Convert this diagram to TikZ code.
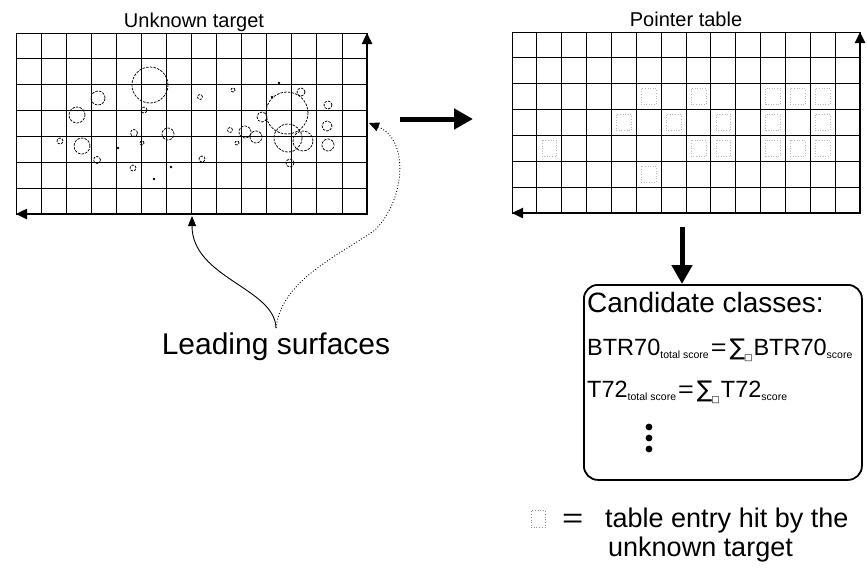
\documentclass[tikz,border=0pt]{standalone}
\usepackage{fontspec}
\setmainfont{Liberation Sans}
\newfontfamily\djv{DejaVu Sans}
\usetikzlibrary{arrows.meta}
\newcommand\lowsub[1]{\raisebox{-3pt}{\fontsize{10.5}{11}\selectfont #1}}
\newcommand\sumbox{{\djv\fontsize{23}{23}\selectfont ∑}\kern-1pt\raisebox{-5pt}{{\djv\fontsize{9}{9}\selectfont □}}\kern1pt}
\newcommand\eqsign{\kern2pt\scalebox{1.15}[1]{=}\kern3pt}
\begin{document}
\begin{tikzpicture}[x=1pt,y=-1pt,
  gridline/.style={line width=0.75pt,black},
  axisline/.style={line width=2.4pt,{Triangle[length=11pt,width=10pt]}-{Triangle[length=11pt,width=10pt]}},
  circ/.style={line width=0.75pt,dash pattern=on 2.5pt off 1.2pt},
  bigarrow/.style={line width=5pt,-{Triangle[length=19pt,width=20pt]}},
  hit/.style={black!28,dotted,line width=0.6pt},
  title/.style={font=\fontsize{20}{22}\selectfont,anchor=base,inner sep=0pt},
  boxtext/.style={anchor=base west,inner sep=0pt},
  legtext/.style={font=\fontsize{27}{30}\selectfont,anchor=base west,inner sep=0pt},
  curve/.style={line width=0.9pt},
]
\useasboundingbox (0,0) rectangle (867,581);

% ---------- left grid (unknown target) ----------
\foreach \i in {0,...,14} \draw[gridline] ({16+\i*351/14},33) -- ({16+\i*351/14},214);
\foreach \j in {0,...,7} \draw[gridline] (16,{33+\j*181/7}) -- (367,{33+\j*181/7});
\coordinate (LL) at (16,214);
\coordinate (LR) at (367,214);
\coordinate (LT) at (367,33);
\draw[axisline] (LL) -- (LR) -- (LT);

\foreach \x/\y/\r in {150/85/18, 98/98/7, 77/115/8, 82/146/8, 60/141/3, 97/160/3.5,
  134/133/3.5, 142/143/2, 144/110/3, 168/134/6, 133/168/3, 200/97/2.5, 202/159/3,
  233/90/2, 287/113/21, 301/92/4, 328/105/4, 262/117/5, 230/130/2.5, 245/132/6,
  256/137/6, 237/143/2, 288/138/14, 303/141/10, 327/126/5, 328/145/6, 290/163/4}
  \draw[circ] (\x,\y) circle[radius=\r pt];
\foreach \x/\y in {118/148, 154/179, 171/167, 279/83, 272/97}
  \fill (\x,\y) circle[radius=1.3pt];

\node[title] (t1) at (194,27) {Unknown target};

% ---------- right grid (pointer table) ----------
\foreach \i in {0,...,14} \draw[gridline] ({512+\i*348/14},32) -- ({512+\i*348/14},213);
\foreach \j in {0,...,7} \draw[gridline] (512,{32+\j*181/7}) -- (860,{32+\j*181/7});
\foreach \c/\r in {5/2,7/2,10/2,11/2,12/2,4/3,6/3,8/3,10/3,12/3,7/4,8/4,10/4,11/4,12/4,5/5,1/4}
  \draw[hit] ({512+\c*348/14+5},{32+\r*181/7+5}) rectangle ({512+(\c+1)*348/14-5},{32+(\r+1)*181/7-5});
\coordinate (RL) at (512,213);
\coordinate (RR) at (860,213);
\coordinate (RT) at (860,32);
\draw[axisline] (RL) -- (RR) -- (RT);

\node[title] (t2) at (686,26) {Pointer table};

% ---------- arrows between ----------
\coordinate (ra1) at (400,119);
\coordinate (ra2) at (473,119);
\draw[bigarrow] (ra1) -- (ra2);

% ---------- candidate box ----------
\node[draw,line width=1.8pt,rounded corners=14pt,minimum width=278pt,minimum height=195pt,anchor=north west,inner sep=0pt] (box) at (583,284) {};
\coordinate (da1) at (682,227);
\draw[bigarrow] (da1) -- (da1 |- box.north);

\node[boxtext,font=\fontsize{28}{30}\selectfont] (c0) at (587,312) {Candidate classes:};
\node[boxtext,font=\fontsize{23.5}{28}\selectfont] (c1) at (587,355)
  {BTR70\lowsub{total score}\eqsign\sumbox BTR70\lowsub{score}};
\node[boxtext,font=\fontsize{23.5}{28}\selectfont] (c2) at (587,397)
  {T72\lowsub{total score}\eqsign\sumbox T72\lowsub{score}};
\foreach \y [count=\k] in {427,438,449} \fill (649,\y) circle[radius=3.4pt] coordinate (dot\k);

% ---------- leading surfaces ----------
\node[font=\fontsize{30}{32}\selectfont,anchor=base,inner sep=4pt] (ls) at (276,354) {Leading surfaces};
\coordinate (lsA) at (192,216);
\coordinate (lsB) at (369,123);
\draw[curve,-{Triangle[length=10pt,width=8pt]}] (ls.north) .. controls (275,288) and (192,278) .. (lsA);
\draw[curve,dotted,-{Triangle[length=10pt,width=9pt]}] (ls.north) .. controls (281,280) and (340,255) .. (375,230) .. controls (405,200) and (410,140) .. (lsB);

% ---------- legend ----------
\node[draw=black!45,dotted,line width=0.7pt,minimum width=14pt,minimum height=17pt,inner sep=0pt] (lgsq) at (538,519) {};
\node[legtext] (lgeq) at (562,527) {\scalebox{1.35}[1]{=}};
\node[legtext] (lg1) at (605,527) {table entry hit by the};
\node[legtext] (lg2) at (608,556) {unknown target};
\end{tikzpicture}
\end{document}
